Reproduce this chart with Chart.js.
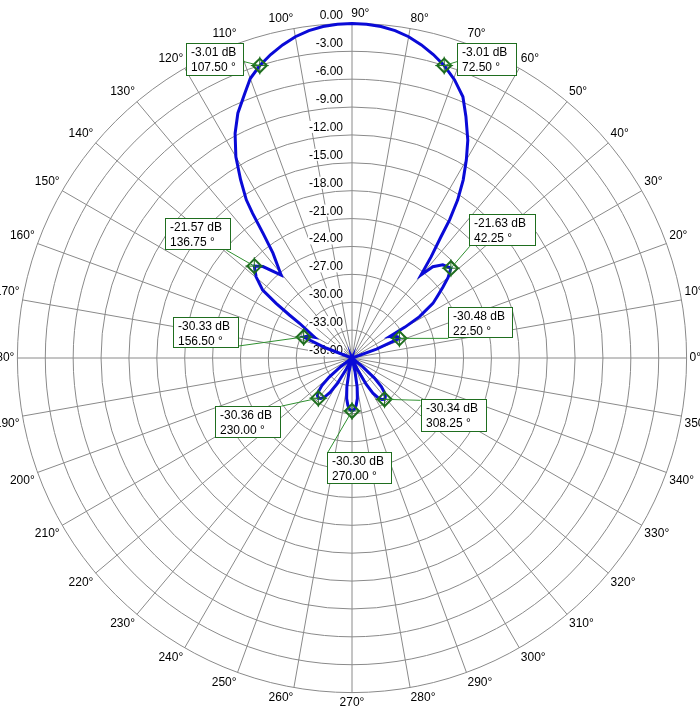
<!DOCTYPE html>
<html>
<head>
<meta charset="utf-8">
<script src="https://cdn.jsdelivr.net/npm/chart.js@4.4.0/dist/chart.umd.min.js"></script>
<style>
html, body { margin: 0; padding: 0; width: 700px; height: 711px; overflow: hidden; background: #fff; }
#wrap { position: absolute; left: -48px; top: 6px; }
</style>
</head>
<body>
<div id="wrap"><canvas id="polar" width="800" height="704"></canvas></div>
<script>
// pattern: angle in degrees (0 at right, counter-clockwise) and gain in dB
var patternAngles = [0, 17.5, 20, 22.5, 25, 27.5, 29.75, 30.25, 31.5, 34, 36, 38, 40, 42.25, 45.75, 48.5, 50.25,
  52, 53.75, 54.75, 56.25, 58, 60, 62, 64.75, 67, 69.75, 72.5, 75, 77.5, 80, 82.5, 85, 87.5, 90,
  92.5, 95, 97.5, 100, 102.5, 105, 107.5, 110, 112, 115, 117.5, 120, 122, 123.75, 124.5, 125.5, 127,
  130.5, 134.25, 136.75, 139.75, 142.75, 144.25, 145.5, 146.5, 151, 153.5, 156.5, 159, 161.5, 200,
  215, 217.5, 220, 222.5, 225, 227.5, 230, 232.5, 235, 237.5, 240, 242.5, 245,
  255, 257.5, 260, 262.5, 265, 267.5, 270, 272.5, 275, 277.5, 280, 282.5, 285,
  293.25, 295.75, 298.25, 300.75, 303.25, 305.75, 308.25, 310.75, 313.25, 315.75, 318.25, 320.75, 323.25, 340];
var patternGain = [-36, -36, -33.2, -30.48, -30.6, -30.95, -31.35, -29.4, -27.48, -25.5, -24.6, -23.58, -22.5, -21.63, -22.0, -22.88, -24.37,
  -22.16, -19.79, -17.81, -15.53, -13.43, -11.4, -9.46, -7.27, -5.46, -4.11, -3.01, -2.2, -1.5, -0.9, -0.48, -0.2, -0.05, 0,
  -0.05, -0.2, -0.48, -0.9, -1.5, -2.2, -3.01, -4.0, -5.25, -6.94, -8.76, -11.01, -13.38, -15.53, -17.12, -19.5, -21.87,
  -24.26, -22.27, -21.57, -22.48, -23.93, -25.94, -27.83, -29.23, -31.4, -30.7, -30.33, -33.0, -36, -36,
  -36, -34.5, -32.8, -31.6, -30.9, -30.5, -30.36, -30.5, -30.9, -31.6, -32.8, -34.5, -36,
  -36, -34.5, -32.8, -31.6, -30.9, -30.45, -30.3, -30.45, -30.9, -31.6, -32.8, -34.5, -36,
  -36, -34.5, -32.8, -31.6, -30.9, -30.5, -30.34, -30.5, -30.9, -31.6, -32.8, -34.5, -36, -36];

// marker readouts
var markerAngles = [107.5, 72.5, 136.75, 42.25, 156.5, 22.5, 230, 270, 308.25];
var markerGain = [-3.01, -3.01, -21.57, -21.63, -30.33, -30.48, -30.36, -30.30, -30.34];

// radial axis (dB) and angular axis
var gainMin = -36, gainMax = 0, gainStep = 3;
var angleStep = 0.25, angleLabelEvery = 10;

var blue = 'rgb(10,10,215)';
var green = '#1f6e1f';
var gridGray = '#8a8a8a';

// readout box placement relative to its marker: box offset, size, leader anchor offset
var boxLayout = [
  {dx: -74, dy: -23, w: 58, h: 33, ax: -16, ay: -4},
  {dx: 13, dy: -23, w: 60, h: 33, ax: 13, ay: -4},
  {dx: -89, dy: -48, w: 66, h: 32, ax: -28, ay: -16},
  {dx: 18, dy: -54, w: 67, h: 32, ax: 19, ay: -22},
  {dx: -131, dy: -20, w: 66, h: 31, ax: -65, ay: 9},
  {dx: 49, dy: -31, w: 65, h: 31, ax: 49, ay: 0},
  {dx: -103, dy: 8, w: 66, h: 32, ax: -37, ay: 8},
  {dx: -25, dy: 41, w: 65, h: 32, ax: -24, ay: 41},
  {dx: 36, dy: 0, w: 66, h: 33, ax: 36, ay: 1}
];

// radar categories run clockwise from the top, so category i sits at 90 - i*step degrees
var N = Math.round(360 / angleStep);
var angleCats = [];
for (var i = 0; i < N; i++) {
  angleCats.push(((90 - i * angleStep) % 360 + 360) % 360);
}
function catIndex(a) {
  return Math.round((((90 - a) / angleStep) % N + N) % N);
}

var curveData = new Array(N).fill(null);
patternAngles.forEach(function (a, k) { curveData[catIndex(a)] = patternGain[k]; });
var markerData = new Array(N).fill(null);
markerAngles.forEach(function (a, k) { markerData[catIndex(a)] = markerGain[k]; });

var dbTicks = {
  id: 'dbTicks',
  beforeDatasetsDraw: function (chart) {
    var r = chart.scales.r, ctx = chart.ctx;
    ctx.save();
    ctx.font = '12px Arial, "Liberation Sans", sans-serif';
    ctx.textAlign = 'right';
    ctx.textBaseline = 'alphabetic';
    r.ticks.forEach(function (t) {
      var d = r.getDistanceFromCenterForValue(t.value);
      var x = r.xCenter - 9, y = r.yCenter - d - 4;
      var txt = t.value.toFixed(2);
      var w = ctx.measureText(txt).width;
      ctx.fillStyle = '#fff';
      ctx.fillRect(x - w - 1, y - 10, w + 2, 12);
      ctx.fillStyle = '#000';
      ctx.fillText(txt, x, y);
    });
    ctx.restore();
  }
};

var readouts = {
  id: 'readouts',
  afterDatasetsDraw: function (chart) {
    var r = chart.scales.r, ctx = chart.ctx;
    ctx.save();
    ctx.font = '12px Arial, "Liberation Sans", sans-serif';
    ctx.textBaseline = 'alphabetic';
    markerAngles.forEach(function (a, k) {
      var p = r.getPointPositionForValue(catIndex(a), markerGain[k]);
      var b = boxLayout[k];
      var bx = Math.round(p.x + b.dx), by = Math.round(p.y + b.dy);
      ctx.strokeStyle = '#2f8f2f';
      ctx.lineWidth = 1;
      ctx.beginPath();
      ctx.moveTo(p.x + b.ax, p.y + b.ay);
      ctx.lineTo(p.x, p.y);
      ctx.stroke();
      ctx.fillStyle = '#fff';
      ctx.fillRect(bx, by, b.w, b.h);
      ctx.strokeStyle = green;
      ctx.strokeRect(bx + 0.5, by + 0.5, b.w - 1, b.h - 1);
      ctx.fillStyle = '#000';
      ctx.fillText(markerGain[k].toFixed(2) + ' dB', bx + 5, by + 13);
      ctx.fillText(a.toFixed(2) + ' \u00b0', bx + 5, by + 28);
    });
    ctx.restore();
  }
};

var ctx = document.getElementById('polar').getContext('2d');
var chart = new Chart(ctx, {
  type: 'radar',
  data: {
    labels: angleCats,
    datasets: [{
      data: markerData,
      showLine: false,
      fill: false,
      pointStyle: 'rectRot',
      pointRadius: 7,
      pointBorderColor: green,
      pointBackgroundColor: 'rgba(0,0,0,0)',
      pointBorderWidth: 2
    }, {
      data: markerData,
      showLine: false,
      fill: false,
      pointStyle: 'cross',
      pointRadius: 9,
      pointBorderColor: green,
      pointBorderWidth: 1
    }, {
      data: curveData,
      spanGaps: true,
      fill: false,
      borderColor: blue,
      borderWidth: 3,
      pointRadius: 0,
      tension: 0
    }]
  },
  options: {
    responsive: false,
    animation: false,
    events: [],
    plugins: {
      legend: { display: false },
      tooltip: { enabled: false }
    },
    scales: {
      r: {
        min: gainMin,
        max: gainMax,
        startAngle: 0,
        ticks: { display: false, stepSize: gainStep },
        grid: { circular: true, color: gridGray, lineWidth: 1 },
        angleLines: {
          color: gridGray,
          lineWidth: function (c) { return angleCats[c.index] % angleLabelEvery === 0 ? 1 : 0; }
        },
        pointLabels: {
          padding: 3,
          color: '#000',
          font: { family: 'Arial, "Liberation Sans", sans-serif', size: 12 },
          callback: function (label, index) {
            if (label % angleLabelEvery !== 0) return '';
            // the top label sits right of the 0.00 tick
            return (label === 90 ? '     ' : '') + label + '\u00b0';
          }
        }
      }
    }
  },
  plugins: [dbTicks, readouts]
});
</script>
</body>
</html>
